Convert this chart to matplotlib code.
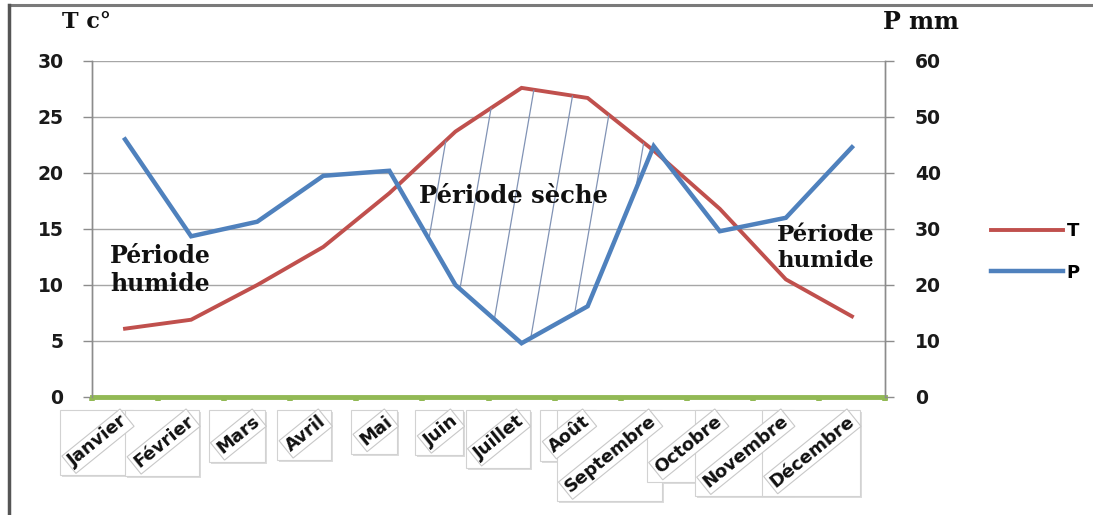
import numpy as np
import matplotlib
matplotlib.use("Agg")
import matplotlib.pyplot as plt
from matplotlib import transforms
from matplotlib.patches import Rectangle
from matplotlib.lines import Line2D

# Monthly climate data
months = ["Janvier", "Février", "Mars", "Avril", "Mai", "Juin", "Juillet",
          "Août", "Septembre", "Octobre", "Novembre", "Décembre"]
temperature = [6.1, 6.9, 10.0, 13.4, 18.2, 23.7, 27.6, 26.7, 22.0, 16.8, 10.5, 7.2]
precipitation = [46.0, 28.7, 31.3, 39.5, 40.4, 20.0, 9.6, 16.2, 44.8, 29.6, 32.0, 44.6]
t_ticks = [0, 5, 10, 15, 20, 25, 30]
p_ticks = [0, 10, 20, 30, 40, 50, 60]

T_COLOR = "#c0504d"
P_COLOR = "#4f81bd"
GRID = "#a6a6a6"
GREEN = "#92b955"
SANS = "DejaVu Sans"
SERIF = "DejaVu Serif"

W, H = 1093, 515
fig = plt.figure(figsize=(W / 100, H / 100), dpi=100)
fig.patch.set_facecolor("white")

ax = fig.add_axes([92 / W, 1 - 397 / H, (885 - 92) / W, (397 - 61) / H])
ax2 = ax.twinx()

x = np.arange(len(months))
ax.set_xlim(-0.5, len(months) - 0.5)
ax.set_ylim(t_ticks[0], t_ticks[-1])
ax2.set_ylim(p_ticks[0], p_ticks[-1])

# grid and spines
ax.set_yticks(t_ticks)
ax2.set_yticks(p_ticks)
for v in t_ticks[1:]:
    ax.axhline(v, color=GRID, lw=1.0, zorder=0)
for a in (ax, ax2):
    a.spines["top"].set_visible(False)
    a.spines["left"].set_color("#8c8c8c")
    a.spines["right"].set_color("#8c8c8c")
    a.spines["left"].set_linewidth(1.0)
    a.spines["right"].set_linewidth(1.0)
    a.spines["bottom"].set_visible(False)
ax.tick_params(axis="y", length=6.5, width=1, color="#8c8c8c", pad=14)
ax2.tick_params(axis="y", length=6.5, width=1, color="#8c8c8c", pad=15)
for lab in ax.get_yticklabels() + ax2.get_yticklabels():
    lab.set_fontfamily(SANS)
    lab.set_fontweight("bold")
    lab.set_fontsize(13.5)
    lab.set_color("#1a1a1a")

# green category axis with small bumps at category boundaries
ax.axhline(0, color=GREEN, lw=3.5, zorder=5, clip_on=False)
ax.set_xticks(np.arange(-0.5, len(months), 1.0))
ax.set_xticklabels([])
ax.tick_params(axis="x", length=3, width=4, color=GREEN, pad=0)

# dry period: where 2T exceeds P, hatched with steep thin lines
two_t = 2 * np.array(temperature)
prec = np.array(precipitation)
dry = ax2.fill_between(x, prec, two_t, where=two_t > prec, interpolate=True,
                       facecolor="none", edgecolor="none", zorder=1)
paths = dry.get_paths()
main_dry = max(paths, key=lambda p: np.ptp(p.vertices[:, 0]))
slope = 0.073
centers = 0.527 + 0.05 * np.arange(-11, 12)
for c in centers:
    ys = np.array([-0.1, 1.1])
    xs = c + slope * (ys - 0.5)
    ln = Line2D(xs, ys, transform=ax.transAxes, color="#8193b5", lw=0.9, zorder=2)
    ax2.add_line(ln)
    ln.set_clip_path(main_dry, ax2.transData)

# series
lt, = ax.plot(x, temperature, color=T_COLOR, lw=2.8, zorder=4, solid_joinstyle="miter", label="T")
lp, = ax2.plot(x, precipitation, color=P_COLOR, lw=3.2, zorder=4, solid_joinstyle="miter", label="P")
ax2.set_zorder(ax.get_zorder() + 1)
ax2.patch.set_visible(False)

# month labels in boxes
label_tf = transforms.offset_copy(ax.get_xaxis_transform(), fig=fig, x=6, y=-15, units="dots")
texts = []
for i, m in enumerate(months):
    t = fig.text(i, 0, m, transform=label_tf, rotation=39, ha="right", va="top",
                 fontfamily=SANS, fontweight="bold", fontsize=13, color="#111111",
                 zorder=10,
                 bbox=dict(boxstyle="square,pad=0.12", fc="white", ec="#c8c8c8", lw=0.8))
    texts.append(t)

fig.canvas.draw()
renderer = fig.canvas.get_renderer()
inv = fig.transFigure.inverted()
for t in texts:
    bb = t.get_window_extent(renderer)
    x0, y0 = bb.x0 - 5, bb.y0 - 5
    x1, y1 = bb.x1 + 2, bb.y1 + 2
    (fx0, fy0), (fx1, fy1) = inv.transform([(x0, y0), (x1, y1)])
    sh = Rectangle((fx0 + 2 / W, fy0 - 2 / H), fx1 - fx0, fy1 - fy0, transform=fig.transFigure,
                   fc="#dcdcdc", ec="none", zorder=3)
    box = Rectangle((fx0, fy0), fx1 - fx0, fy1 - fy0, transform=fig.transFigure,
                    fc="white", ec="#d2d2d2", lw=0.8, zorder=4)
    fig.add_artist(sh)
    fig.add_artist(box)

# axis titles
fig.text(62 / W, 1 - 22 / H, "T c°", fontfamily=SERIF, fontweight="bold", fontsize=16,
         ha="left", va="center", color="#111111")
fig.text(883 / W, 1 - 22 / H, "P mm", fontfamily=SERIF, fontweight="bold", fontsize=17,
         ha="left", va="center", color="#111111")

# period annotations
fig.text(513 / W, 1 - 196 / H, "Période sèche", fontfamily=SERIF, fontweight="bold",
         fontsize=17.5, ha="center", va="center", color="#111111", zorder=6)
fig.text(160 / W, 1 - 270 / H, "Période\nhumide", fontfamily=SERIF, fontweight="bold",
         fontsize=17, ha="center", va="center", multialignment="center",
         color="#111111", linespacing=1.2, zorder=6)
fig.text(826 / W, 1 - 248 / H, "Période\nhumide", fontfamily=SERIF, fontweight="bold",
         fontsize=16.5, ha="center", va="center", multialignment="center",
         color="#111111", linespacing=1.2, zorder=6)

# legend
leg = fig.legend(handles=[lt, lp], labels=["T", "P"], loc="center left",
                 bbox_to_anchor=(991 / W, 1 - 252 / H), frameon=False,
                 handlelength=4.0, handletextpad=0.2, labelspacing=1.3,
                 borderpad=0, borderaxespad=0,
                 prop=dict(family=SANS, weight="bold", size=13))

# outer frame (top and left)
fig.add_artist(Line2D([9 / W, 1], [1 - 5 / H, 1 - 5 / H], transform=fig.transFigure,
                      color="#7a7a7a", lw=2.2))
fig.add_artist(Line2D([9 / W, 9 / W], [0, 1 - 5 / H], transform=fig.transFigure,
                      color="#555555", lw=2.5))

fig.savefig("out.png", dpi=100)
